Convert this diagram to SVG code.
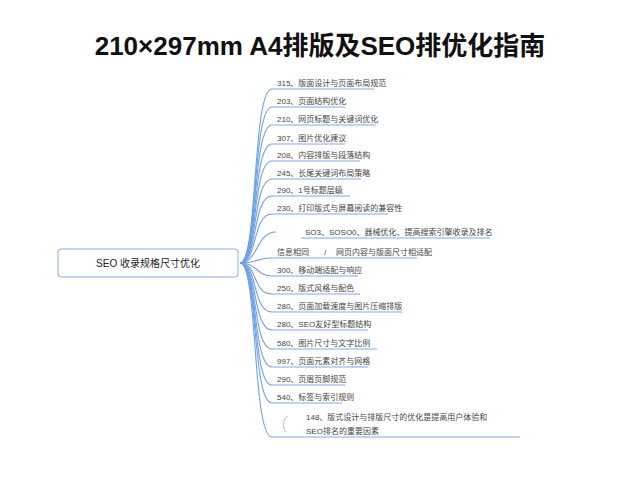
<svg xmlns="http://www.w3.org/2000/svg" width="640" height="480" viewBox="0 0 640 480">
<style>
.t{font-family:"Liberation Sans","Noto Sans CJK SC",sans-serif;fill:#444;font-size:8px}
.c{fill:none;stroke:#6f9fe6;stroke-width:1.1}
.u{fill:none;stroke:#7ea9ea;stroke-width:1}
</style>
<rect width="640" height="480" fill="#ffffff"/>
<text x="320" y="55" text-anchor="middle" font-family="Liberation Sans,Noto Sans CJK SC,sans-serif" font-weight="bold" font-size="26" fill="#111">210×297mm A4排版及SEO排优化指南</text>
<g id="connectors">
<path class="c" d="M240,263 C258,263 252,89 272,89"/>
<path class="c" d="M240,263 C258,263 252,107 272,107"/>
<path class="c" d="M240,263 C258,263 252,125 272,125"/>
<path class="c" d="M240,263 C258,263 252,144 272,144"/>
<path class="c" d="M240,263 C258,263 252,161 272,161"/>
<path class="c" d="M240,263 C258,263 252,179 272,179"/>
<path class="c" d="M240,263 C258,263 252,196 272,196"/>
<path class="c" d="M240,263 C258,263 252,214 272,214"/>
<path class="c" d="M240,263 C258,263 256,232 276,232"/>
<path class="c" d="M240,263 C258,263 256,258 272,258"/>
<path class="c" d="M240,263 C258,263 256,276 272,276"/>
<path class="c" d="M240,263 C258,263 252,294 272,294"/>
<path class="c" d="M240,263 C258,263 252,312 272,312"/>
<path class="c" d="M240,263 C258,263 252,330 272,330"/>
<path class="c" d="M240,263 C258,263 252,349 272,349"/>
<path class="c" d="M240,263 C258,263 252,367 272,367"/>
<path class="c" d="M240,263 C258,263 252,385 272,385"/>
<path class="c" d="M240,263 C258,263 252,403 272,403"/>
<path class="c" d="M240,263 C258,263 252,437 272,437"/>
</g>
<g id="root">
<rect x="58" y="249" width="180" height="28" rx="3" fill="#fff" stroke="#8aabe8" stroke-width="1"/>
<text x="148" y="267" text-anchor="middle" class="t" style="font-size:10px;fill:#222">SEO 收录规格尺寸优化</text>
</g>
<g id="n1"><path class="u" d="M272,89 H374"/><text class="t" x="277" y="86">315、版面设计与页面布局规范</text></g>
<g id="n2"><path class="u" d="M272,107 H345"/><text class="t" x="277" y="104">203、页面结构优化</text></g>
<g id="n3"><path class="u" d="M272,125 H376"/><text class="t" x="277" y="122">210、网页标题与关键词优化</text></g>
<g id="n4"><path class="u" d="M272,144 H345"/><text class="t" x="277" y="141">307、图片优化建议</text></g>
<g id="n5"><path class="u" d="M272,161 H360"/><text class="t" x="277" y="158">208、内容排版与段落结构</text></g>
<g id="n6"><path class="u" d="M272,179 H361"/><text class="t" x="277" y="176">245、长尾关键词布局策略</text></g>
<g id="n7"><path class="u" d="M272,196 H350"/><text class="t" x="277" y="193">290、1号标题层级</text></g>
<g id="n8"><path class="u" d="M272,214 H388"/><text class="t" x="277" y="211">230、打印版式与屏幕阅读的兼容性</text></g>
<g id="n9"><path class="u" d="M301,238 H490"/><text class="t" x="305" y="235">SO3、SOSO0、器械优化、提高搜索引擎收录及排名</text></g>
<g id="n10"><path class="u" d="M272,258 H417"/><text class="t" x="277" y="255">信息相同</text><text class="t" x="324" y="255">/</text><text class="t" x="336" y="255">网页内容与版面尺寸相适配</text></g>
<g id="n11"><path class="u" d="M272,276 H358"/><text class="t" x="277" y="273">300、移动端适配与响应</text></g>
<g id="n12"><path class="u" d="M272,294 H360"/><text class="t" x="277" y="291">250、版式风格与配色</text></g>
<g id="n13"><path class="u" d="M272,312 H402"/><text class="t" x="277" y="309">280、页面加载速度与图片压缩排版</text></g>
<g id="n14"><path class="u" d="M272,330 H368"/><text class="t" x="277" y="327">280、SEO友好型标题结构</text></g>
<g id="n15"><path class="u" d="M272,349 H377"/><text class="t" x="277" y="346">580、图片尺寸与文字比例</text></g>
<g id="n16"><path class="u" d="M272,367 H368"/><text class="t" x="277" y="364">997、页面元素对齐与网格</text></g>
<g id="n17"><path class="u" d="M272,385 H345"/><text class="t" x="277" y="382">290、页眉页脚规范</text></g>
<g id="n18"><path class="u" d="M272,403 H342"/><text class="t" x="277" y="400">540、标签与索引规则</text></g>
<g id="n19"><path class="u" d="M272,437 H520"/>
<path d="M288,416 C283,418 282,428 286,432" fill="none" stroke="#bbb" stroke-width="1"/>
<text class="t" x="306" y="420">148、版式设计与排版尺寸的优化是提高用户体验和</text>
<text class="t" x="306" y="434">SEO排名的重要因素</text></g>
</svg>
